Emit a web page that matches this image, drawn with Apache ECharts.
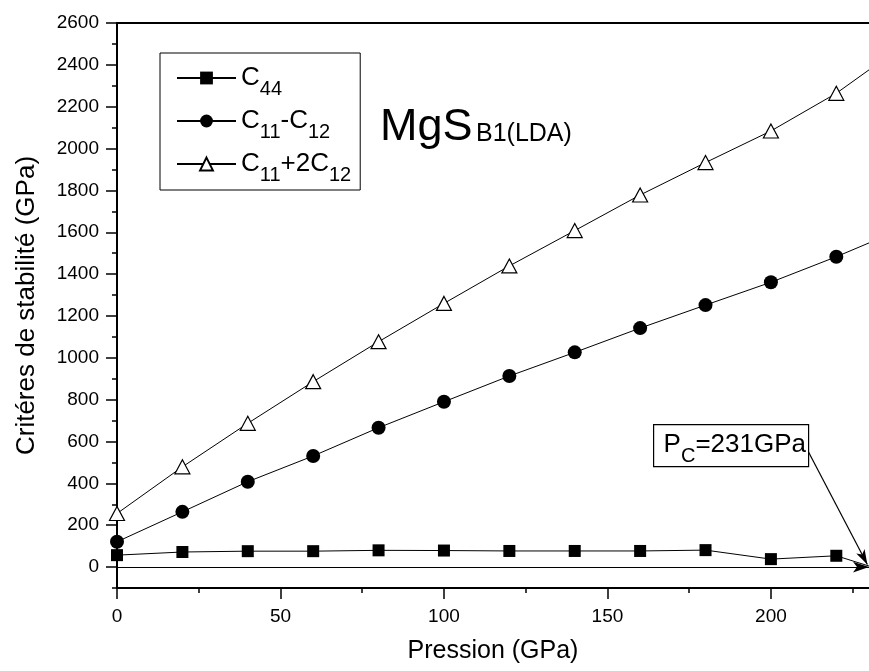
<!DOCTYPE html>
<html>
<head>
<meta charset="utf-8">
<script src="https://cdn.jsdelivr.net/npm/echarts@6/dist/echarts.min.js"></script>
<style>
  html, body { margin: 0; padding: 0; background: #fff; }
  #chart { width: 869px; height: 671px; }
</style>
</head>
<body>
<div id="chart"></div>
<script>
// Pressure points (GPa)
const pressure = [0, 20, 40, 60, 80, 100, 120, 140, 160, 180, 200, 220];
// Elastic stability criteria (GPa)
const c44      = [57, 72, 76, 76, 80, 79, 77, 77, 77, 81, 38, 54];
const c11mc12  = [121, 264, 408, 531, 666, 790, 913, 1026, 1142, 1252, 1361, 1483];
const c11p2c12 = [256, 479, 687, 886, 1077, 1260, 1439, 1608, 1778, 1933, 2084, 2264];
// Points beyond the visible pressure range (line continues past the frame)
const c44End      = [231, 0];
const c11mc12End  = [240, 1615];
const c11p2c12End = [240, 2488];

const seriesNames = ['C44', 'C11-C12', 'C11+2C12'];
const legendRich = {
  'C44': '{m|C}{s|44}',
  'C11-C12': '{m|C}{s|11}{m|-C}{s|12}',
  'C11+2C12': '{m|C}{s|11}{m|+2C}{s|12}'
};

// Axis ticks
const xMajor = [0, 50, 100, 150, 200];
const xMinor = [25, 75, 125, 175, 225];
const yMajor = [0, 200, 400, 600, 800, 1000, 1200, 1400, 1600, 1800, 2000, 2200, 2400, 2600];
const yMinor = [-100, 100, 300, 500, 700, 900, 1100, 1300, 1500, 1700, 1900, 2100, 2300, 2500];

const pc = 231;
const FONT = "'Liberation Sans', Arial, sans-serif";

function pairs(xs, ys, end) {
  const out = xs.map((x, i) => [x, ys[i]]);
  out.push(end);
  return out;
}

const chart = echarts.init(document.getElementById('chart'), null, { renderer: 'canvas' });

const xBase = { type: 'value', min: 0, max: 230, gridIndex: 0, splitLine: { show: false } };
const yBase = { type: 'value', min: -100, max: 2600, gridIndex: 0, splitLine: { show: false } };

chart.setOption({
  animation: false,
  backgroundColor: '#fff',
  textStyle: { fontFamily: FONT, color: '#000' },
  grid: { left: 117, right: 0, top: 23, bottom: 83, containLabel: false },
  legend: {
    data: seriesNames,
    orient: 'vertical',
    left: 160,
    top: 53,
    padding: [12, 9, 5, 16],
    itemGap: 9,
    itemWidth: 59,
    itemHeight: 16,
    borderColor: '#000',
    borderWidth: 1,
    selectedMode: false,
    formatter: name => legendRich[name],
    textStyle: {
      rich: {
        m: { fontSize: 26, fontFamily: FONT, color: '#000', lineHeight: 42, verticalAlign: 'middle' },
        s: { fontSize: 20, fontFamily: FONT, color: '#000', lineHeight: 19, verticalAlign: 'bottom' }
      }
    }
  },
  xAxis: [
    Object.assign({}, xBase, {
      position: 'bottom',
      name: 'Pression (GPa)',
      nameLocation: 'middle',
      nameGap: 51,
      nameTextStyle: { fontSize: 25, fontFamily: FONT, color: '#000' },
      axisLine: { show: true, onZero: false, lineStyle: { color: '#000', width: 2 } },
      axisTick: { show: true, inside: false, length: 11, customValues: xMajor, lineStyle: { color: '#000', width: 1.5 } },
      axisLabel: { show: true, customValues: xMajor, margin: 19, fontSize: 19, fontFamily: FONT, color: '#000', formatter: v => String(v) }
    }),
    Object.assign({}, xBase, {
      position: 'bottom',
      axisLine: { show: false, onZero: false },
      axisTick: { show: true, inside: false, length: 5, customValues: xMinor, lineStyle: { color: '#000', width: 1.5 } },
      axisLabel: { show: false }
    }),
    Object.assign({}, xBase, {
      position: 'top',
      axisLine: { show: true, onZero: false, lineStyle: { color: '#000', width: 2 } },
      axisTick: { show: false },
      axisLabel: { show: false }
    })
  ],
  yAxis: [
    Object.assign({}, yBase, {
      position: 'left',
      name: 'Critéres de stabilité (GPa)',
      nameLocation: 'middle',
      nameGap: 77,
      nameTextStyle: { fontSize: 26, fontFamily: FONT, color: '#000' },
      axisLine: { show: true, onZero: false, lineStyle: { color: '#000', width: 2 } },
      axisTick: { show: true, inside: false, length: 11, customValues: yMajor, lineStyle: { color: '#000', width: 1.5 } },
      axisLabel: { show: true, customValues: yMajor, margin: 18, fontSize: 19, fontFamily: FONT, color: '#000', formatter: v => String(v) }
    }),
    Object.assign({}, yBase, {
      position: 'left',
      axisLine: { show: false, onZero: false },
      axisTick: { show: true, inside: false, length: 5, customValues: yMinor, lineStyle: { color: '#000', width: 1.5 } },
      axisLabel: { show: false }
    })
  ],
  series: [
    {
      name: 'C44',
      type: 'line',
      xAxisIndex: 0, yAxisIndex: 0,
      data: pairs(pressure, c44, c44End),
      clip: true,
      symbol: 'rect',
      symbolSize: 12,
      lineStyle: { color: '#000', width: 1 },
      itemStyle: { color: '#000', borderColor: '#000', borderWidth: 0 },
      markLine: {
        silent: true,
        animation: false,
        label: { show: false },
        data: [
          { yAxis: 0, symbol: 'none', lineStyle: { color: '#000', width: 1, type: 'solid' } },
          [
            { coord: [211.5, 550], symbol: 'none', lineStyle: { color: '#000', width: 1.2, type: 'solid' } },
            { coord: [229.5, 12], symbol: 'arrow', symbolSize: [7, 15] }
          ]
        ]
      }
    },
    {
      name: 'C11-C12',
      type: 'line',
      xAxisIndex: 0, yAxisIndex: 0,
      data: pairs(pressure, c11mc12, c11mc12End),
      clip: true,
      symbol: 'circle',
      symbolSize: 14,
      lineStyle: { color: '#000', width: 1 },
      itemStyle: { color: '#000', borderColor: '#000', borderWidth: 0 }
    },
    {
      name: 'C11+2C12',
      type: 'line',
      xAxisIndex: 0, yAxisIndex: 0,
      data: pairs(pressure, c11p2c12, c11p2c12End),
      clip: true,
      symbol: 'triangle',
      symbolSize: [15, 14],
      lineStyle: { color: '#000', width: 1 },
      itemStyle: { color: '#fff', borderColor: '#000', borderWidth: 1.2 }
    }
  ],
  graphic: [
    // Compound name and phase / functional
    {
      type: 'text',
      left: 380,
      top: 105,
      style: { text: 'MgS', fontSize: 45, fontFamily: FONT, fontWeight: 'normal', fill: '#000' }
    },
    {
      type: 'text',
      left: 476,
      top: 122,
      style: { text: 'B1(LDA)', fontSize: 25, fontFamily: FONT, fontWeight: 'normal', fill: '#000' }
    },
    // Critical pressure annotation
    {
      type: 'group',
      left: 653,
      top: 424,
      children: [
        { type: 'rect', shape: { x: 0, y: 0, width: 155, height: 42 }, style: { fill: '#fff', stroke: '#000', lineWidth: 1.2 } },
        {
          type: 'text',
          x: 10,
          y: 20,
          style: {
            text: '{m|P}{s|C}{m|=' + pc + 'GPa}',
            verticalAlign: 'middle',
            rich: {
              m: { fontSize: 26, fontFamily: FONT, fill: '#000', lineHeight: 44, verticalAlign: 'middle' },
              s: { fontSize: 20, fontFamily: FONT, fill: '#000', lineHeight: 20, verticalAlign: 'bottom' }
            }
          }
        }
      ]
    }
  ]
});
</script>
</body>
</html>
